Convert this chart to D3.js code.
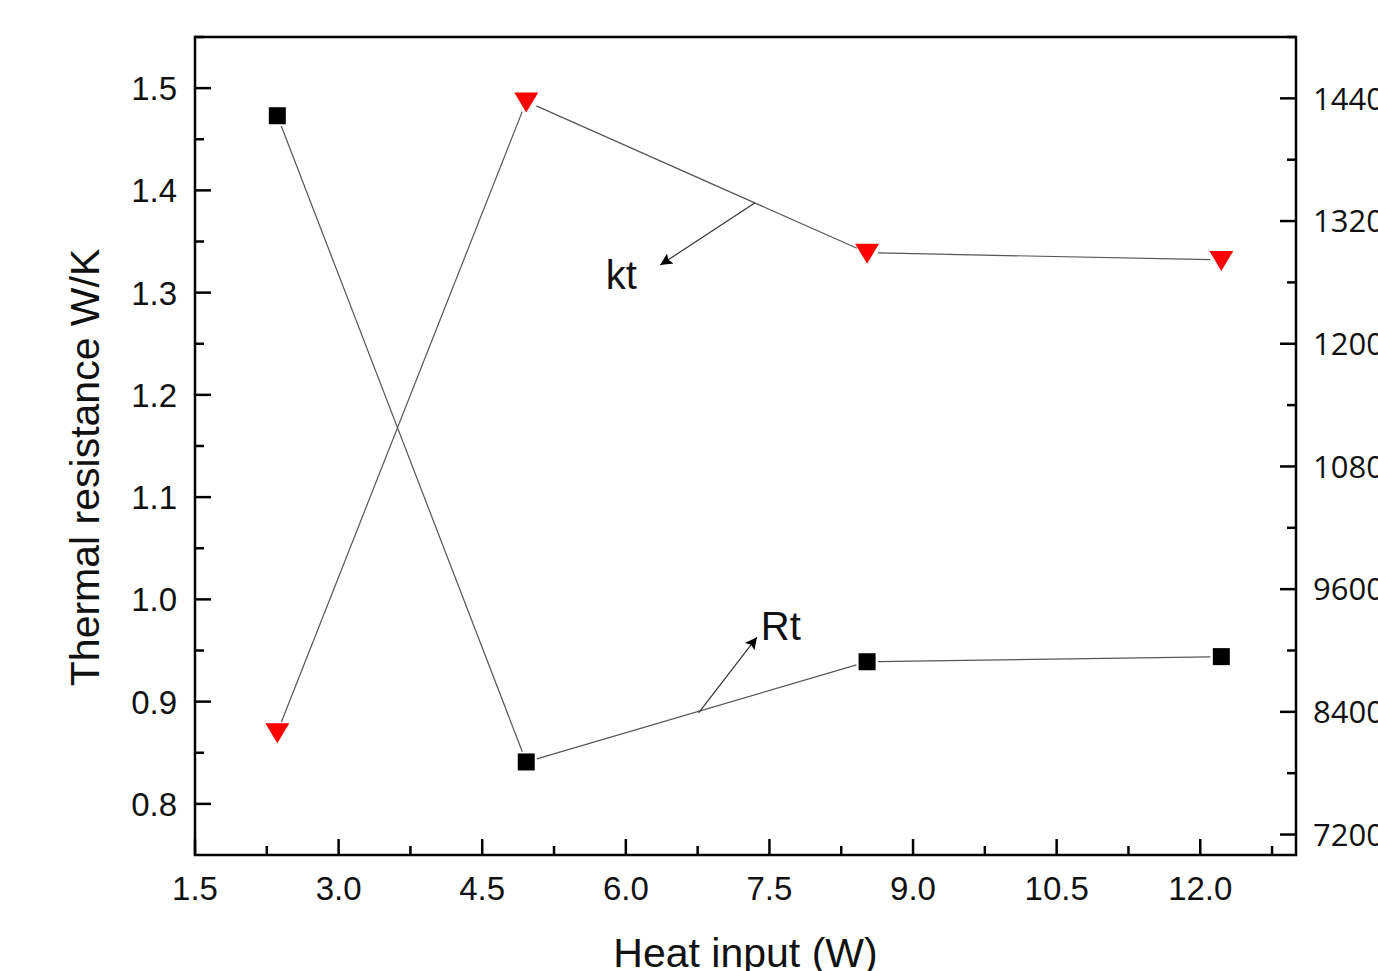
<!DOCTYPE html>
<html>
<head>
<meta charset="utf-8">
<script src="https://cdn.jsdelivr.net/npm/d3@7"></script>
<style>
  body { margin: 0; background: #fff; overflow: hidden; }
  text { font-family: "Liberation Sans", Arial, sans-serif; fill: #111; }
  .right-tick text { font-family: "Open Sans", "DejaVu Sans", sans-serif; }
</style>
</head>
<body>
<div id="wrapper"></div>
<script>
// Data
const heatInput = [2.36, 4.96, 8.52, 12.22]
const rtValues = [1.473, 0.841, 0.939, 0.944]
const ktValues = [8200, 14370, 12890, 12820]

const xTicks = [1.5, 3.0, 4.5, 6.0, 7.5, 9.0, 10.5, 12.0]
const leftTicks = [0.8, 0.9, 1.0, 1.1, 1.2, 1.3, 1.4, 1.5]
const rightTicks = [7200, 8400, 9600, 10800, 12000, 13200, 14400]

// annotation positions (in data units of the left axis)
const annotations = [
  { label: 'kt', text: [5.79, 1.304], from: [7.35, 1.388], to: [6.36, 1.327] },
  { label: 'Rt', text: [7.41, 0.960], from: [6.76, 0.889], to: [7.37, 0.963] },
]

function drawChart() {
  const dimensions = {
    width: 1378,
    height: 971,
    margin: { top: 37, right: 82, bottom: 116, left: 195 },
  }
  dimensions.boundedWidth = dimensions.width - dimensions.margin.left - dimensions.margin.right
  dimensions.boundedHeight = dimensions.height - dimensions.margin.top - dimensions.margin.bottom

  const wrapper = d3.select('#wrapper')
    .append('svg')
    .attr('width', dimensions.width)
    .attr('height', dimensions.height)

  const bounds = wrapper.append('g')
    .attr('transform', `translate(${dimensions.margin.left},${dimensions.margin.top})`)

  // Scales
  const xScale = d3.scaleLinear().domain([1.5, 13.0]).range([0, dimensions.boundedWidth])
  const yLeft = d3.scaleLinear().domain([0.75, 1.55]).range([dimensions.boundedHeight, 0])
  const yRight = d3.scaleLinear().domain([7000, 15000]).range([dimensions.boundedHeight, 0])

  // Frame
  bounds.append('rect')
    .attr('width', dimensions.boundedWidth)
    .attr('height', dimensions.boundedHeight)
    .attr('fill', 'none')
    .attr('stroke', '#000')
    .attr('stroke-width', 2.5)

  const minor = (ticks, step) => ticks.map(t => t + step / 2)

  // Bottom axis (ticks pointing inward)
  const xAxis = bounds.append('g')
    .attr('transform', `translate(0,${dimensions.boundedHeight})`)
  xAxis.selectAll('.minor').data(minor(xTicks, 1.5)).join('line')
    .attr('x1', d => xScale(d)).attr('x2', d => xScale(d))
    .attr('y1', 0).attr('y2', -9)
    .attr('stroke', '#000').attr('stroke-width', 2.5)
  xAxis.selectAll('.major').data(xTicks).join('line')
    .attr('x1', d => xScale(d)).attr('x2', d => xScale(d))
    .attr('y1', 0).attr('y2', -16)
    .attr('stroke', '#000').attr('stroke-width', 2.5)
  xAxis.selectAll('text').data(xTicks).join('text')
    .attr('x', d => xScale(d))
    .attr('y', 45)
    .attr('text-anchor', 'middle')
    .style('font-size', '33px')
    .text(d3.format('.1f'))

  // Left axis
  const leftAxis = bounds.append('g')
  leftAxis.selectAll('.minor').data(minor(leftTicks, 0.1)).join('line')
    .attr('y1', d => yLeft(d)).attr('y2', d => yLeft(d))
    .attr('x1', 0).attr('x2', 9)
    .attr('stroke', '#000').attr('stroke-width', 2.5)
  leftAxis.selectAll('.major').data(leftTicks).join('line')
    .attr('y1', d => yLeft(d)).attr('y2', d => yLeft(d))
    .attr('x1', 0).attr('x2', 16)
    .attr('stroke', '#000').attr('stroke-width', 2.5)
  leftAxis.selectAll('text').data(leftTicks).join('text')
    .attr('x', -18)
    .attr('y', d => yLeft(d))
    .attr('dy', '0.36em')
    .attr('text-anchor', 'end')
    .style('font-size', '33px')
    .text(d3.format('.1f'))

  // Right axis
  const rightAxis = bounds.append('g')
    .attr('class', 'right-tick')
    .attr('transform', `translate(${dimensions.boundedWidth},0)`)
  rightAxis.selectAll('.minor').data(minor(rightTicks, 1200)).join('line')
    .attr('y1', d => yRight(d)).attr('y2', d => yRight(d))
    .attr('x1', 0).attr('x2', -9)
    .attr('stroke', '#000').attr('stroke-width', 2.5)
  rightAxis.selectAll('.major').data(rightTicks).join('line')
    .attr('y1', d => yRight(d)).attr('y2', d => yRight(d))
    .attr('x1', 0).attr('x2', -16)
    .attr('stroke', '#000').attr('stroke-width', 2.5)
  rightAxis.selectAll('text').data(rightTicks).join('text')
    .attr('x', 17)
    .attr('y', d => yRight(d))
    .attr('dy', '0.36em')
    .style('font-size', '31px')
    .text(d => d)

  // Axis titles
  wrapper.append('text')
    .attr('transform', `translate(99,${dimensions.margin.top + yLeft(1.129)}) rotate(-90)`)
    .attr('text-anchor', 'middle')
    .style('font-size', '41px')
    .text('Thermal resistance W/K')

  wrapper.append('text')
    .attr('x', dimensions.margin.left + xScale(7.25))
    .attr('y', 967)
    .attr('text-anchor', 'middle')
    .style('font-size', '41px')
    .text('Heat input (W)')

  // Connecting lines with a small gap near each marker
  const gap = 11
  function drawSeries(values, yScale) {
    const pts = heatInput.map((x, i) => [xScale(x), yScale(values[i])])
    d3.pairs(pts).forEach(([a, b]) => {
      const dx = b[0] - a[0], dy = b[1] - a[1]
      const len = Math.hypot(dx, dy)
      const ux = dx / len, uy = dy / len
      bounds.append('line')
        .attr('x1', a[0] + ux * gap).attr('y1', a[1] + uy * gap)
        .attr('x2', b[0] - ux * gap).attr('y2', b[1] - uy * gap)
        .attr('stroke', '#555')
        .attr('stroke-width', 1.2)
    })
  }
  drawSeries(rtValues, yLeft)
  drawSeries(ktValues, yRight)

  // Rt markers: black squares
  bounds.selectAll('.rt').data(heatInput).join('rect')
    .attr('x', d => xScale(d) - 8.5)
    .attr('y', (d, i) => yLeft(rtValues[i]) - 8.5)
    .attr('width', 17).attr('height', 17)
    .attr('fill', '#000')

  // kt markers: red down triangles
  bounds.selectAll('.kt').data(heatInput).join('path')
    .attr('transform', (d, i) => `translate(${xScale(d)},${yRight(ktValues[i])})`)
    .attr('d', 'M-12,-9 L12,-9 L0,11 Z')
    .attr('fill', '#ff0000')

  // Annotations
  const defs = wrapper.append('defs')
  defs.append('marker')
    .attr('id', 'arrow')
    .attr('viewBox', '0 0 10 10')
    .attr('refX', 10).attr('refY', 5)
    .attr('markerWidth', 20).attr('markerHeight', 12)
    .attr('markerUnits', 'userSpaceOnUse')
    .attr('orient', 'auto')
    .append('path')
    .attr('d', 'M0,0 L10,5 L0,10 L2,5 Z')
    .attr('fill', '#000')

  annotations.forEach(a => {
    bounds.append('line')
      .attr('x1', xScale(a.from[0])).attr('y1', yLeft(a.from[1]))
      .attr('x2', xScale(a.to[0])).attr('y2', yLeft(a.to[1]))
      .attr('stroke', '#333')
      .attr('stroke-width', 1.2)
      .attr('marker-end', 'url(#arrow)')
    bounds.append('text')
      .attr('x', xScale(a.text[0]))
      .attr('y', yLeft(a.text[1]))
      .style('font-size', '40px')
      .text(a.label)
  })
}
drawChart()
</script>
</body>
</html>
